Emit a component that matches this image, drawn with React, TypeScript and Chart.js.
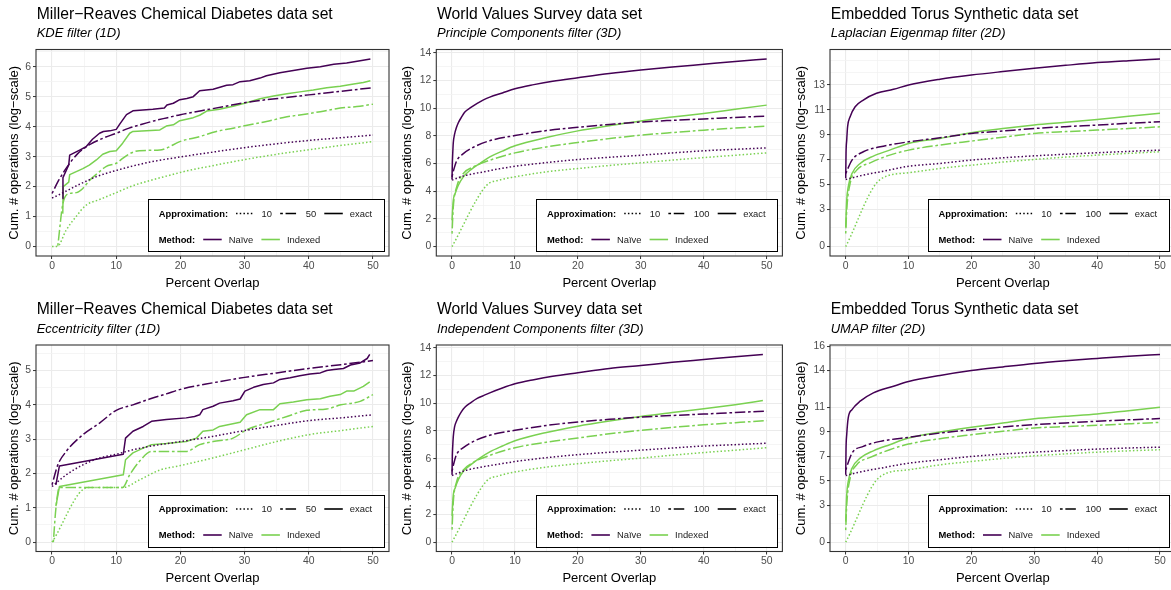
import React, { useEffect, useRef } from 'react';
import { Chart, registerables } from 'chart.js';
Chart.register(...registerables);

const FONT = '"Liberation Sans", Arial, Helvetica, sans-serif';
Chart.defaults.font.family = FONT;
const NAIVE = '#440154';
const INDEXED = '#7AD151';
const DOT = [1.5, 2.2];
const DOTDASH = [2.7, 2.7, 10.5, 2.7];

type Pt = [number, number];

// ---------- tick labels ----------
const xMajor = [0, 10, 20, 30, 40, 50];
const xMinor = [5, 15, 25, 35, 45];
const kdeYMajor = [0, 1, 2, 3, 4, 5, 6];
const kdeYMinor = [0.5, 1.5, 2.5, 3.5, 4.5, 5.5, 6.5];
const wvsYMajor = [0, 2, 4, 6, 8, 10, 12, 14];
const wvsYMinor = [1, 3, 5, 7, 9, 11, 13];
const lapYMajor = [0, 3, 5, 7, 9, 11, 13];
const lapYMinor = [1.5, 4, 6, 8, 10, 12, 14, 15];
const eccYMajor = [0, 1, 2, 3, 4, 5];
const eccYMinor = [0.5, 1.5, 2.5, 3.5, 4.5, 5.5];
const umapYMajor = [0, 3, 5, 7, 9, 11, 14, 16];
const umapYMinor = [1.5, 4, 6, 8, 10, 12.5, 15];
const approxLabels50 = ['10', '50', 'exact'];
const approxLabels100 = ['10', '100', 'exact'];
const methodLabels = ['Naïve', 'Indexed'];

// ---------- Panel 1: Miller-Reaves, KDE filter ----------
const kdeNaive10: Pt[] = [[0,1.62],[1,1.72],[2,1.83],[3,1.94],[4,2.05],[5,2.15],[7,2.34],[10,2.54],[13,2.71],[16,2.85],[20,2.99],[25,3.15],[30,3.3],[35,3.43],[40,3.54],[45,3.63],[50,3.72]];
const kdeNaive50: Pt[] = [[0,1.77],[1,2.2],[2,2.55],[3,2.85],[4,3.1],[5,3.28],[6,3.42],[8,3.62],[10,3.78],[12,3.95],[14,4.08],[16,4.2],[18,4.3],[20,4.4],[22,4.48],[25,4.6],[28,4.72],[30,4.8],[33,4.89],[36,4.96],[40,5.06],[45,5.18],[50,5.3]];
const kdeNaiveExact: Pt[] = [[1.67,1.6],[1.7,2.3],[2.6,2.72],[2.75,3.05],[4.3,3.22],[5.3,3.33],[6.3,3.58],[7.4,3.78],[8,3.84],[9,3.86],[10,3.91],[10.6,4.1],[11.6,4.4],[12.6,4.53],[15.7,4.58],[17.5,4.62],[17.9,4.72],[18.9,4.78],[19.9,4.9],[21,4.94],[22,5.0],[23,5.2],[25.1,5.25],[27.2,5.38],[28.2,5.4],[29.3,5.5],[30.8,5.53],[32.4,5.62],[33.4,5.7],[35.5,5.8],[37.6,5.87],[39.7,5.95],[41.8,6.0],[43.9,6.08],[45.9,6.12],[48,6.2],[49.6,6.26]];
const kdeIndexed10: Pt[] = [[0,0],[0.9,0.02],[2.2,0.55],[3.7,0.99],[5.3,1.38],[7.4,1.57],[10,1.8],[12.6,2.03],[15.2,2.2],[17.8,2.35],[20.9,2.52],[24.1,2.66],[28.2,2.83],[32.4,2.99],[36.6,3.13],[40.7,3.25],[44.9,3.37],[50,3.5]];
const kdeIndexed50: Pt[] = [[0.9,0.03],[1.7,1.44],[2.7,1.77],[3.8,1.8],[4.8,1.94],[5.8,2.2],[7.4,2.5],[8.4,2.67],[10,2.78],[11,2.94],[12.1,3.1],[13.6,3.2],[16.8,3.22],[17.8,3.28],[19.9,3.5],[23,3.67],[25.6,3.84],[28.2,3.95],[31.4,4.09],[33.4,4.17],[36.6,4.33],[38.6,4.39],[41.8,4.5],[44.9,4.62],[47.5,4.67],[50,4.75]];
const kdeIndexedExact: Pt[] = [[1.67,1.1],[1.75,2.0],[2.6,2.15],[2.75,2.4],[4.8,2.6],[5.8,2.72],[6.9,2.89],[7.9,3.08],[9,3.17],[10,3.2],[11,3.45],[12.1,3.78],[12.6,3.84],[16.8,3.89],[17.8,4.02],[18.9,4.06],[19.9,4.2],[22,4.3],[23,4.38],[24.1,4.52],[26.1,4.58],[28.2,4.68],[30.3,4.8],[32.4,4.93],[34.5,5.02],[36.6,5.1],[38.6,5.16],[40.7,5.22],[42.8,5.3],[44.9,5.35],[47,5.42],[48.5,5.47],[49.6,5.53]];

// ---------- Panel 2: World Values Survey, Principle Components ----------
const pcaNaive10: Pt[] = [[0,4.8],[1,4.98],[2.3,5.16],[5,5.4],[7.5,5.62],[10,5.8],[15,6.07],[20,6.29],[25,6.45],[30,6.6],[35,6.77],[40,6.92],[45,7.03],[50,7.13]];
const pcaNaive100: Pt[] = [[0,5.04],[0.3,5.6],[0.74,6.2],[1.8,6.72],[3.4,7.18],[6,7.65],[10,8.02],[15,8.38],[20,8.62],[25,8.82],[30,9.0],[35,9.12],[40,9.22],[45,9.33],[50,9.43]];
const pcaNaiveExact: Pt[] = [[0,4.85],[0.05,6.0],[0.1,6.6],[0.2,7.5],[0.4,8.1],[0.7,8.6],[1,8.95],[1.5,9.35],[2,9.7],[3,10.05],[4,10.35],[5,10.6],[6,10.8],[8,11.1],[10,11.4],[13,11.7],[16,11.95],[20,12.2],[25,12.5],[30,12.75],[35,12.97],[40,13.17],[45,13.37],[50,13.56]];
const pcaIndexed10: Pt[] = [[0,0],[5.5,4.43],[7.5,4.8],[10,5.04],[15,5.4],[20,5.64],[25,5.86],[30,6.05],[35,6.25],[40,6.43],[45,6.6],[50,6.77]];
const pcaIndexed100: Pt[] = [[0,0.94],[0.2,2.87],[0.74,4.31],[1.8,5.28],[3.4,5.76],[6,6.24],[10,6.77],[15,7.2],[20,7.52],[25,7.8],[30,8.05],[35,8.24],[40,8.41],[45,8.56],[50,8.7]];
const pcaIndexedExact: Pt[] = [[0,1.9],[0.2,3.35],[0.5,3.83],[1,4.43],[1.8,5.04],[2.9,5.52],[4.4,6.0],[6,6.48],[8,6.9],[10,7.28],[15,7.88],[20,8.36],[25,8.73],[30,9.08],[35,9.36],[40,9.62],[45,9.92],[50,10.22]];

// ---------- Panel 3: Embedded Torus, Laplacian Eigenmap ----------
const lapNaive10: Pt[] = [[0,5.4],[2.8,5.75],[5.5,6.02],[10,6.46],[15,6.69],[20,6.96],[25,7.14],[30,7.3],[35,7.43],[40,7.55],[45,7.66],[50,7.76]];
const lapNaive100: Pt[] = [[0,5.88],[1,6.96],[2.8,7.63],[5.5,8.03],[10,8.43],[15,8.75],[20,9.1],[25,9.3],[30,9.5],[35,9.65],[40,9.78],[45,9.92],[50,10.05]];
const lapNaiveExact: Pt[] = [[0,5.5],[0.05,7.5],[0.16,8.57],[0.3,9.64],[0.7,10.45],[1.5,11.25],[2.8,11.79],[4.9,12.33],[7.6,12.65],[10,13.0],[15,13.46],[20,13.8],[25,14.08],[30,14.34],[35,14.58],[40,14.8],[45,14.96],[50,15.1]];
const lapIndexed10: Pt[] = [[0,0],[5.5,5.4],[10,5.94],[15,6.29],[20,6.55],[25,6.8],[30,7.01],[35,7.2],[40,7.36],[45,7.5],[50,7.63]];
const lapIndexed100: Pt[] = [[0,1.05],[0.16,2.93],[0.7,5.08],[1.75,6.15],[3.9,6.74],[7,7.36],[10,7.76],[15,8.17],[20,8.49],[25,8.8],[30,9.1],[35,9.25],[40,9.37],[45,9.5],[50,9.64]];
const lapIndexedExact: Pt[] = [[0,1.58],[0.16,3.73],[0.4,4.8],[1,5.88],[2.3,6.69],[4.4,7.28],[7,7.76],[10,8.3],[15,8.7],[20,9.16],[25,9.5],[30,9.78],[35,10.0],[40,10.23],[45,10.48],[50,10.72]];

// ---------- Panel 4: Miller-Reaves, Eccentricity ----------
const eccNaive10: Pt[] = [[0,1.62],[2.2,1.96],[4.8,2.25],[7.4,2.45],[10,2.56],[12.6,2.69],[15.2,2.79],[20,2.93],[25,3.08],[30,3.25],[35,3.4],[40,3.54],[45,3.62],[50,3.71]];
const eccNaive50: Pt[] = [[0,1.67],[0.9,2.25],[2.2,2.64],[4.8,3.13],[7.4,3.47],[10,3.84],[12.6,4.0],[15.2,4.17],[17.8,4.32],[20,4.45],[25,4.64],[30,4.8],[35,4.93],[40,5.06],[45,5.17],[50,5.29]];
const eccNaiveExact: Pt[] = [[0.6,1.67],[1.15,2.22],[11.1,2.56],[11.45,3.03],[12.6,3.23],[14.2,3.37],[15.5,3.52],[17.8,3.57],[20.9,3.62],[22.2,3.66],[23,3.71],[23.5,3.86],[25.1,3.96],[26.1,4.05],[28.2,4.12],[29.3,4.17],[30.05,4.4],[31.4,4.51],[32.9,4.59],[34.5,4.64],[35.5,4.74],[37.1,4.79],[38.6,4.85],[40.2,4.9],[41.8,4.93],[42.8,5.0],[43.9,5.03],[45.4,5.06],[46.5,5.16],[48,5.22],[49.1,5.35],[49.5,5.47]];
const eccIndexed10: Pt[] = [[0,0],[5.6,1.59],[11,1.59],[13.6,1.81],[16.8,2.1],[20,2.23],[25,2.45],[30,2.69],[35,2.93],[40,3.13],[45,3.25],[50,3.37]];
const eccIndexed50: Pt[] = [[0.2,0],[0.6,0.98],[1.15,1.59],[11,1.59],[12.1,1.96],[13.6,2.35],[15.5,2.64],[20.9,2.64],[23,2.84],[25.1,2.93],[28.2,3.03],[30.3,3.27],[33.4,3.47],[36.6,3.66],[39.7,3.84],[42.8,3.88],[45,4.0],[48,4.1],[50,4.3]];
const eccIndexedExact: Pt[] = [[0.6,1.05],[1.15,1.62],[11.1,1.96],[11.45,2.4],[12.6,2.6],[14.2,2.74],[15.5,2.84],[17.8,2.87],[20.9,2.93],[22.5,3.03],[23.5,3.23],[25.1,3.27],[26.1,3.37],[29.3,3.49],[30.3,3.71],[32.4,3.86],[34.5,3.86],[35.5,4.03],[37.6,4.08],[39.7,4.15],[41.8,4.18],[43.3,4.25],[44.9,4.3],[45.9,4.4],[47,4.4],[48.5,4.54],[49.5,4.67]];

// ---------- Panel 5: World Values Survey, Independent Components ----------
const icaNaive10: Pt[] = [[0,4.8],[1,4.98],[2.3,5.18],[5,5.43],[7.5,5.62],[10,5.8],[15,6.08],[20,6.3],[25,6.47],[30,6.62],[35,6.78],[40,6.92],[45,7.02],[50,7.12]];
const icaNaive100: Pt[] = [[0,5.1],[0.3,5.7],[0.7,6.3],[1.8,6.8],[3.4,7.25],[6,7.7],[10,8.05],[15,8.4],[20,8.65],[25,8.84],[30,9.0],[35,9.12],[40,9.22],[45,9.33],[50,9.43]];
const icaNaiveExact: Pt[] = [[0,4.85],[0.05,6.2],[0.1,6.8],[0.2,7.6],[0.4,8.3],[0.7,8.7],[1,9.0],[1.5,9.4],[2,9.7],[3,10.05],[4,10.35],[5,10.55],[6,10.75],[8,11.1],[10,11.4],[13,11.7],[16,11.95],[20,12.2],[25,12.5],[30,12.72],[35,12.95],[40,13.15],[45,13.35],[49.4,13.52]];
const icaIndexed10: Pt[] = [[0,0],[5.5,4.4],[7.5,4.78],[10,5.05],[15,5.4],[20,5.65],[25,5.86],[30,6.05],[35,6.26],[40,6.45],[45,6.62],[50,6.8]];
const icaIndexed100: Pt[] = [[0,0.9],[0.2,2.9],[0.7,4.3],[1.8,5.2],[3.4,5.75],[6,6.25],[10,6.8],[15,7.2],[20,7.5],[25,7.8],[30,8.05],[35,8.26],[40,8.45],[45,8.6],[50,8.75]];
const icaIndexedExact: Pt[] = [[0,1.9],[0.2,3.4],[0.5,3.9],[1,4.5],[1.8,5.1],[2.9,5.55],[4.4,6.05],[6,6.5],[8,6.92],[10,7.3],[15,7.9],[20,8.35],[25,8.72],[30,9.05],[35,9.33],[40,9.6],[45,9.9],[49.4,10.2]];

// ---------- Panel 6: Embedded Torus, UMAP ----------
const umapNaive10: Pt[] = [[0,5.43],[2.5,5.75],[5.5,6.03],[10,6.44],[15,6.72],[20,6.99],[25,7.18],[30,7.34],[35,7.47],[40,7.59],[45,7.68],[50,7.75]];
const umapNaive100: Pt[] = [[0,5.9],[1,7.26],[2.8,7.81],[5.5,8.22],[10,8.55],[15,8.9],[20,9.17],[25,9.4],[30,9.58],[35,9.73],[40,9.86],[45,9.98],[50,10.08]];
const umapNaiveExact: Pt[] = [[0,5.5],[0.05,7.6],[0.16,8.76],[0.4,10.13],[1,10.81],[2.3,11.5],[4.4,12.18],[7.6,12.72],[10,13.1],[15,13.6],[20,14.0],[25,14.3],[30,14.58],[35,14.8],[40,14.99],[45,15.17],[50,15.32]];
const umapIndexed10: Pt[] = [[0,0],[5.5,5.35],[10,5.9],[15,6.31],[20,6.58],[25,6.83],[30,7.04],[35,7.2],[40,7.34],[45,7.45],[50,7.54]];
const umapIndexed100: Pt[] = [[0,0.98],[0.16,3.03],[0.7,5.21],[1.75,6.31],[3.9,6.91],[7,7.54],[10,8.0],[15,8.44],[20,8.76],[25,9.05],[30,9.31],[35,9.43],[40,9.53],[45,9.65],[50,9.77]];
const umapIndexedExact: Pt[] = [[0,1.67],[0.16,3.85],[0.4,4.94],[1,6.03],[2.3,6.85],[4.4,7.45],[7,7.95],[10,8.49],[15,8.98],[20,9.37],[25,9.72],[30,10.07],[35,10.27],[40,10.46],[45,10.73],[50,11.0]];

interface Panel {
  title: string;
  subtitle: string;
  approx: string[];
  naive: Pt[][]; // [10, mid, exact]
  indexed: Pt[][];
  yMajor: number[];
  yMinor: number[];
  smoothExact: boolean;
  canvas: { x: number; y: number; w: number; h: number };
  area: { L: number; T: number; R: number; B: number };
  yTitleOff: number;
  legendMargin: number;
}

const ROW2 = 295;
const PANELS: Panel[] = [
  { title: 'Miller−Reaves Chemical Diabetes data set', subtitle: 'KDE filter (1D)', approx: approxLabels50,
    naive: [kdeNaive10, kdeNaive50, kdeNaiveExact], indexed: [kdeIndexed10, kdeIndexed50, kdeIndexedExact],
    yMajor: kdeYMajor, yMinor: kdeYMinor, smoothExact: false,
    canvas: { x: 0, y: 0, w: 392, h: 295 }, area: { L: 36, T: 49.5, R: 389, B: 256 }, yTitleOff: 18, legendMargin: 4.8 },
  { title: 'World Values Survey data set', subtitle: 'Principle Components filter (3D)', approx: approxLabels100,
    naive: [pcaNaive10, pcaNaive100, pcaNaiveExact], indexed: [pcaIndexed10, pcaIndexed100, pcaIndexedExact],
    yMajor: wvsYMajor, yMinor: wvsYMinor, smoothExact: true,
    canvas: { x: 392, y: 0, w: 394, h: 295 }, area: { L: 436.3, T: 49.5, R: 782.4, B: 256 }, yTitleOff: 25, legendMargin: 4.8 },
  { title: 'Embedded Torus Synthetic data set', subtitle: 'Laplacian Eigenmap filter (2D)', approx: approxLabels100,
    naive: [lapNaive10, lapNaive100, lapNaiveExact], indexed: [lapIndexed10, lapIndexed100, lapIndexedExact],
    yMajor: lapYMajor, yMinor: lapYMinor, smoothExact: true,
    canvas: { x: 786, y: 0, w: 395, h: 295 }, area: { L: 830, T: 49.5, R: 1175.7, B: 256 }, yTitleOff: 25, legendMargin: 6.5 },
  { title: 'Miller−Reaves Chemical Diabetes data set', subtitle: 'Eccentricity filter (1D)', approx: approxLabels50,
    naive: [eccNaive10, eccNaive50, eccNaiveExact], indexed: [eccIndexed10, eccIndexed50, eccIndexedExact],
    yMajor: eccYMajor, yMinor: eccYMinor, smoothExact: false,
    canvas: { x: 0, y: ROW2, w: 392, h: 295 }, area: { L: 36, T: 345, R: 389, B: 551.5 }, yTitleOff: 18, legendMargin: 4.8 },
  { title: 'World Values Survey data set', subtitle: 'Independent Components filter (3D)', approx: approxLabels100,
    naive: [icaNaive10, icaNaive100, icaNaiveExact], indexed: [icaIndexed10, icaIndexed100, icaIndexedExact],
    yMajor: wvsYMajor, yMinor: wvsYMinor, smoothExact: true,
    canvas: { x: 392, y: ROW2, w: 394, h: 295 }, area: { L: 436.3, T: 345, R: 782.4, B: 551.5 }, yTitleOff: 25, legendMargin: 4.8 },
  { title: 'Embedded Torus Synthetic data set', subtitle: 'UMAP filter (2D)', approx: approxLabels100,
    naive: [umapNaive10, umapNaive100, umapNaiveExact], indexed: [umapIndexed10, umapIndexed100, umapIndexedExact],
    yMajor: umapYMajor, yMinor: umapYMinor, smoothExact: true,
    canvas: { x: 786, y: ROW2, w: 395, h: 295 }, area: { L: 830, T: 345, R: 1175.7, B: 551.5 }, yTitleOff: 25, legendMargin: 6.5 },
];

function lineDs(data: Pt[], color: string, kind: number, smooth: boolean, order: number) {
  return {
    data: data.map(([x, y]) => ({ x, y })),
    borderColor: color,
    backgroundColor: color,
    borderWidth: 1.5,
    borderDash: kind === 0 ? DOT : kind === 1 ? DOTDASH : [],
    borderCapStyle: 'butt',
    borderJoinStyle: 'round',
    pointRadius: 0,
    pointHoverRadius: 0,
    showLine: true,
    fill: false,
    tension: 0,
    cubicInterpolationMode: smooth ? 'monotone' : 'default',
    order,
  };
}

function drawLegend(ctx: CanvasRenderingContext2D, area: any, approx: string[], margin: number) {
  const fs = 9.4;
  const fb = `bold ${fs}px ${FONT}`;
  const fr = `${fs}px ${FONT}`;
  const padL = 10.6, padR = 12, key = 18.5, gTK = 8, gKL = 7, gLK = 8.2;
  ctx.save();
  ctx.font = fb;
  const t1 = ctx.measureText('Approximation:').width;
  const t2 = ctx.measureText('Method:').width;
  ctx.font = fr;
  const rowW = (tw: number, labs: string[]) => {
    let w = tw;
    labs.forEach((l, i) => { w += (i === 0 ? gTK : gLK) + key + gKL + ctx.measureText(l).width; });
    return w;
  };
  const bw = padL + Math.max(rowW(t1, approx), rowW(t2, methodLabels)) + padR;
  const bh = 52;
  const x0 = area.right - margin - bw;
  const y0 = area.bottom - 4.8 - bh;
  ctx.fillStyle = '#FFFFFF';
  ctx.fillRect(x0, y0, bw, bh);
  ctx.strokeStyle = '#000000';
  ctx.lineWidth = 1;
  ctx.strokeRect(Math.round(x0) + 0.5, Math.round(y0) + 0.5, Math.round(bw), Math.round(bh));

  const drawRow = (cy: number, title: string, tw: number, labs: string[], styles: { color: string; dash: number[] }[]) => {
    let x = x0 + padL;
    ctx.font = fb;
    ctx.fillStyle = '#000000';
    ctx.textBaseline = 'alphabetic';
    ctx.textAlign = 'left';
    ctx.fillText(title, x, cy + 3.4);
    x += tw;
    labs.forEach((l, i) => {
      x += i === 0 ? gTK : gLK;
      ctx.beginPath();
      ctx.setLineDash(styles[i].dash);
      ctx.lineDashOffset = 0;
      ctx.strokeStyle = styles[i].color;
      ctx.lineWidth = 1.6;
      ctx.lineCap = 'butt';
      ctx.moveTo(x, cy);
      ctx.lineTo(x + key, cy);
      ctx.stroke();
      ctx.setLineDash([]);
      x += key + gKL;
      ctx.font = fr;
      ctx.fillStyle = '#1A1A1A';
      ctx.fillText(l, x, cy + 3.4);
      x += ctx.measureText(l).width;
    });
  };
  drawRow(y0 + 14.3, 'Approximation:', t1, approx, [
    { color: '#000000', dash: DOT }, { color: '#000000', dash: DOTDASH }, { color: '#000000', dash: [] },
  ]);
  drawRow(y0 + 40.3, 'Method:', t2, methodLabels, [
    { color: NAIVE, dash: [] }, { color: INDEXED, dash: [] },
  ]);
  ctx.restore();
}

function PanelChart({ p }: { p: Panel }) {
  const ref = useRef<HTMLCanvasElement | null>(null);
  useEffect(() => {
    const canvas = ref.current;
    if (!canvas) return;
    const all = [...p.naive, ...p.indexed].flat();
    const ys = all.map((d) => d[1]);
    const yLo = Math.min(...ys), yHi = Math.max(...ys);
    const span = yHi - yLo;
    const yMin = yLo - 0.05 * span, yMax = yHi + 0.05 * span;
    const xTicks = [...xMajor, ...xMinor].sort((a, b) => a - b);
    const yTicks = [...p.yMajor, ...p.yMinor].filter((v) => v > yMin && v < yMax).sort((a, b) => a - b);
    const xMaj = new Set(xMajor);
    const yMaj = new Set(p.yMajor);
    const c = p.canvas, a = p.area;

    const gridOpts = (majSet: Set<number>) => ({
      drawOnChartArea: true,
      drawTicks: true,
      tickLength: 3,
      tickWidth: 1,
      color: (ctx: any) => (majSet.has(ctx.tick?.value) ? '#EBEBEB' : '#F3F3F3'),
      lineWidth: (ctx: any) => (majSet.has(ctx.tick?.value) ? 1.1 : 0.8),
      tickColor: (ctx: any) => (majSet.has(ctx.tick?.value) ? '#333333' : 'rgba(0,0,0,0)'),
    });

    const decor = {
      id: 'decor' + p.subtitle.replace(/\W/g, ''),
      afterDraw(chart: any) {
        const ctx: CanvasRenderingContext2D = chart.ctx;
        const ca = chart.chartArea;
        ctx.save();
        ctx.strokeStyle = '#333333';
        ctx.lineWidth = 1.1;
        ctx.setLineDash([]);
        ctx.strokeRect(ca.left, ca.top, ca.right - ca.left, ca.bottom - ca.top);
        ctx.fillStyle = '#000000';
        ctx.textAlign = 'left';
        ctx.textBaseline = 'alphabetic';
        ctx.font = `15.7px ${FONT}`;
        ctx.fillText(p.title, ca.left + 0.7, ca.top - 30.7);
        ctx.font = `italic 13px ${FONT}`;
        ctx.fillText(p.subtitle, ca.left + 0.7, ca.top - 12.3);
        ctx.font = `13px ${FONT}`;
        ctx.textAlign = 'center';
        ctx.fillText('Percent Overlap', (ca.left + ca.right) / 2, ca.bottom + 30.8);
        ctx.save();
        ctx.translate(ca.left - p.yTitleOff, (ca.top + ca.bottom) / 2);
        ctx.rotate(-Math.PI / 2);
        ctx.fillText('Cum. # operations (log−scale)', 0, 0);
        ctx.restore();
        ctx.restore();
        drawLegend(ctx, ca, p.approx, p.legendMargin);
      },
    };

    const datasets: any[] = [];
    const kinds = [0, 1, 2];
    kinds.forEach((k) => {
      const smooth = k === 2 ? p.smoothExact : true;
      datasets.push(lineDs(p.naive[k], NAIVE, k, smooth, k));
    });
    kinds.forEach((k) => {
      const smooth = k === 2 ? p.smoothExact : true;
      datasets.push(lineDs(p.indexed[k], INDEXED, k, smooth, 3 + k));
    });

    const chart = new Chart(canvas, {
      type: 'scatter',
      data: { datasets },
      options: {
        animation: false,
        responsive: false,
        maintainAspectRatio: false,
        devicePixelRatio: 1,
        events: [],
        layout: { padding: { left: 0, top: a.T - c.y, right: c.x + c.w - a.R, bottom: 0 } },
        plugins: { legend: { display: false }, tooltip: { enabled: false }, title: { display: false } },
        scales: {
          x: {
            type: 'linear',
            min: -2.5,
            max: 52.5,
            bounds: 'data',
            afterBuildTicks: (s: any) => { s.ticks = xTicks.map((v) => ({ value: v })); },
            afterFit: (s: any) => { s.height = c.y + c.h - a.B; s.paddingLeft = 0; s.paddingRight = 0; },
            ticks: {
              autoSkip: false, maxRotation: 0, minRotation: 0, padding: 0.5,
              color: '#4D4D4D', font: { size: 10.4, family: FONT },
              callback: (v: any) => (xMaj.has(v) ? String(v) : ''),
            },
            grid: gridOpts(xMaj),
            border: { display: false },
          },
          y: {
            type: 'linear',
            min: yMin,
            max: yMax,
            bounds: 'data',
            afterBuildTicks: (s: any) => { s.ticks = yTicks.map((v) => ({ value: v })); },
            afterFit: (s: any) => { s.width = a.L - c.x; s.paddingTop = 0; s.paddingBottom = 0; },
            ticks: {
              autoSkip: false, padding: 2,
              color: '#4D4D4D', font: { size: 10.4, family: FONT },
              callback: (v: any) => (yMaj.has(v) ? String(v) : ''),
            },
            grid: gridOpts(yMaj),
            border: { display: false },
          },
        },
      } as any,
      plugins: [decor],
    });
    return () => chart.destroy();
  }, [p]);
  return (
    <canvas
      ref={ref}
      width={p.canvas.w}
      height={p.canvas.h}
      style={{ position: 'absolute', left: p.canvas.x, top: p.canvas.y, width: p.canvas.w, height: p.canvas.h }}
    />
  );
}

export default function App() {
  return (
    <div style={{ position: 'absolute', left: 0, top: 0, width: 1171, height: 590, overflow: 'hidden', background: '#FFFFFF' }}>
      {PANELS.map((p, i) => (
        <PanelChart key={i} p={p} />
      ))}
    </div>
  );
}
